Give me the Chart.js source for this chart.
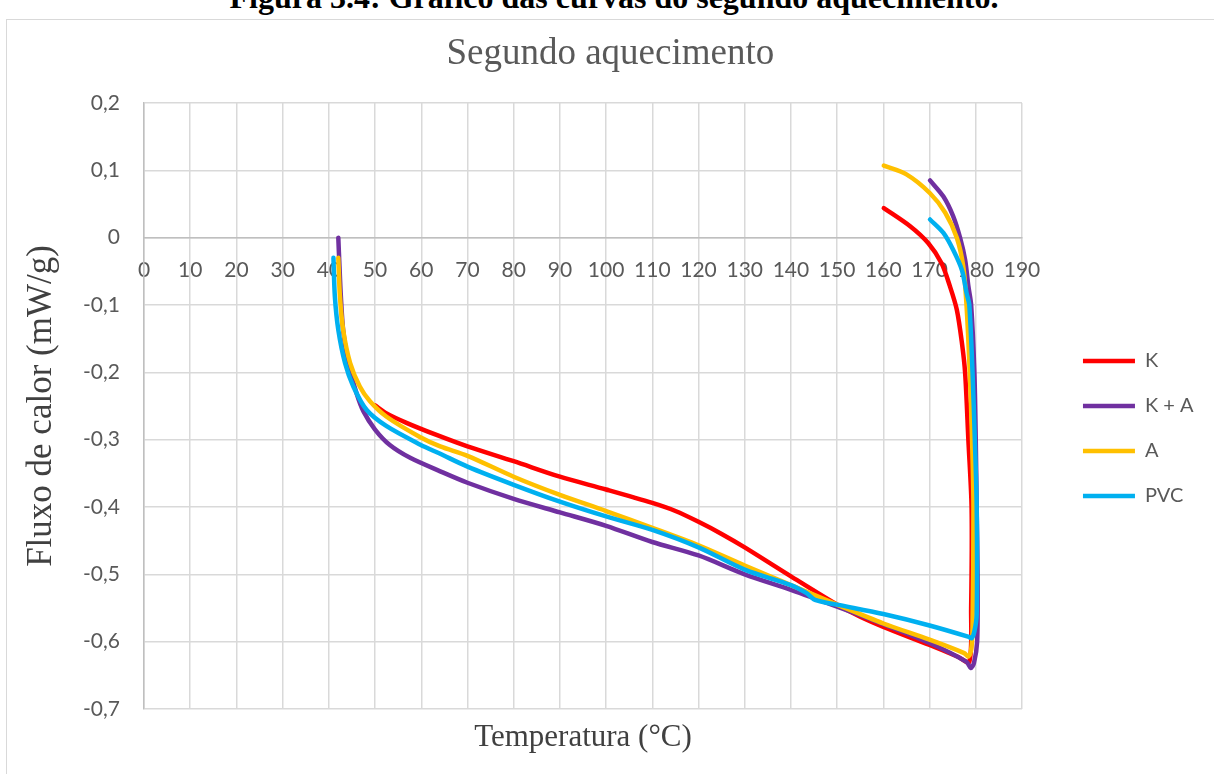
<!DOCTYPE html>
<html><head><meta charset="utf-8">
<script src="https://cdn.jsdelivr.net/npm/chart.js@4.4.1/dist/chart.umd.min.js"></script>
<style>
html,body{margin:0;padding:0;background:#fff;width:1214px;height:774px;overflow:hidden;}
#frame{position:absolute;left:6px;top:19px;width:1300px;height:900px;border:1px solid #d9d9d9;box-sizing:border-box;}
#cap{position:absolute;left:7px;width:1214px;top:-19px;text-align:center;font:bold 32px "Liberation Serif";line-height:32px;white-space:nowrap;color:#000;}
#wrap{position:absolute;left:0;top:0;width:1214px;height:774px;}
</style></head><body>
<div id="cap">Figura 3.4: Gráfico das curvas do segundo aquecimento.</div>
<div id="frame"></div>
<div id="wrap"><canvas id="c" width="1214" height="774"></canvas></div>
<script>
// ---- data ----
const seriesNames = ['K', 'K + A', 'A', 'PVC'];
const seriesColors = ['#FF0000', '#7030A0', '#FFC000', '#00B0F0'];

const kT = [50, 52.5, 56.8, 63.3, 70, 80, 90, 100, 110, 115, 120, 125, 130, 140, 150, 155, 160, 170, 176, 178.6, 179.0, 179.1, 178.4, 177.7, 177.0, 175.9, 174.4, 172.6, 169.7, 165.8, 160.1];
const kV = [-0.249, -0.261, -0.275, -0.293, -0.310, -0.332, -0.355, -0.374, -0.394, -0.406, -0.422, -0.440, -0.460, -0.503, -0.545, -0.563, -0.578, -0.605, -0.622, -0.630, -0.55, -0.402, -0.300, -0.201, -0.156, -0.107, -0.072, -0.038, -0.008, 0.017, 0.044];

const kaT = [42.05, 42.3, 42.6, 43.1, 44.2, 46.0, 47.5, 50, 53.2, 57.6, 64.1, 70, 80, 90, 100, 110, 120, 130, 140, 150, 160, 170, 178.0, 178.9, 179.6, 180.3, 180.4, 180.2, 180.0, 179.7, 179.0, 178.4, 177.7, 176.6, 175.1, 173.0, 170.1];
const kaV = [0, -0.042, -0.087, -0.137, -0.186, -0.231, -0.258, -0.285, -0.308, -0.327, -0.347, -0.364, -0.388, -0.408, -0.428, -0.452, -0.472, -0.500, -0.523, -0.548, -0.574, -0.602, -0.630, -0.639, -0.632, -0.600, -0.500, -0.400, -0.300, -0.200, -0.100, -0.072, -0.033, 0, 0.032, 0.061, 0.085];

const aT = [42.05, 42.4, 43.1, 44.6, 46.7, 48.9, 52.5, 59.7, 64.1, 70, 80, 90, 100, 110, 120, 130, 140, 150, 160, 170, 177.5, 178.4, 179.0, 179.3, 179.5, 179.2, 178.7, 178.0, 177.3, 175.9, 173.4, 170.1, 165.0, 160.1];
const aV = [-0.030, -0.087, -0.137, -0.186, -0.221, -0.243, -0.266, -0.296, -0.310, -0.324, -0.355, -0.382, -0.406, -0.431, -0.457, -0.487, -0.516, -0.545, -0.573, -0.597, -0.617, -0.622, -0.612, -0.580, -0.400, -0.300, -0.200, -0.100, -0.043, 0, 0.037, 0.066, 0.094, 0.107];

const pvcT = [41.0, 41.3, 42.05, 43.5, 45.3, 48.2, 52.5, 59.7, 64.1, 70, 80, 90, 100, 110, 120, 130, 140, 143.4, 145.2, 150, 160, 170, 178.5, 179.1, 179.7, 180.2, 180.2, 179.8, 179.3, 178.6, 178.0, 177.0, 175.1, 173.0, 170.1];
const pvcV = [-0.030, -0.087, -0.137, -0.186, -0.221, -0.256, -0.280, -0.307, -0.321, -0.340, -0.367, -0.392, -0.414, -0.434, -0.460, -0.493, -0.516, -0.528, -0.538, -0.545, -0.559, -0.576, -0.593, -0.595, -0.585, -0.560, -0.400, -0.300, -0.200, -0.100, -0.082, -0.048, -0.018, 0.007, 0.027];

const xTicksMin = 0, xTicksMax = 190, xStep = 10;
const yTicksMin = -0.7, yTicksMax = 0.2, yStep = 0.1;

const chartTitle = 'Segundo aquecimento';
const xTitle = 'Temperatura (°C)';
const yTitle = 'Fluxo de calor (mW/g)';
// ----------------------------------------

const allT = [kT, kaT, aT, pvcT];
const allV = [kV, kaV, aV, pvcV];
const pairs = (ts, vs) => ts.map((t, i) => ({x: t, y: vs[i]}));

const datasets = seriesNames.map((name, i) => ({
  label: name,
  data: pairs(allT[i], allV[i]),
  borderColor: seriesColors[i],
  backgroundColor: seriesColors[i],
  borderWidth: 4.5,
  borderCapStyle: 'round',
  borderJoinStyle: 'round',
  pointRadius: 0,
  pointHoverRadius: 0,
  showLine: true,
  tension: 0.3,
  order: seriesNames.length - i
}));

const tickFont = {family: 'Lato', size: 21};
const tickColor = '#595959';
const gridColor = '#d9d9d9';

new Chart(document.getElementById('c'), {
  type: 'scatter',
  data: {datasets},
  options: {
    responsive: false,
    animation: false,
    devicePixelRatio: 1,
    layout: {padding: {left: 17, right: 10.4, top: 0, bottom: 7.8}},
    plugins: {
      title: {
        display: true, text: chartTitle, color: '#595959',
        font: {family: 'Liberation Serif', size: 37, weight: 'normal'},
        padding: {top: 32.5, bottom: 26.1}
      },
      legend: {
        position: 'right', fullSize: false, align: 'center',
        title: {display: true, text: '', font: {size: 10}, padding: {top: 33, bottom: 0}},
        labels: {
          sort: (a, b) => a.datasetIndex - b.datasetIndex,
          usePointStyle: true, pointStyle: 'line', pointStyleWidth: 52,
          font: {family: 'Lato', size: 20}, color: tickColor, padding: 25
        }
      },
      tooltip: {enabled: false}
    },
    scales: {
      x: {
        type: 'linear', min: xTicksMin, max: xTicksMax, position: {y: 0},
        ticks: {stepSize: xStep, padding: 20, font: tickFont, color: tickColor, maxRotation: 0, autoSkip: false},
        grid: {color: gridColor, lineWidth: 1.5, drawTicks: false},
        border: {color: '#bfbfbf', width: 1.5}
      },
      y: {
        type: 'linear', min: yTicksMin, max: yTicksMax,
        ticks: {
          stepSize: yStep, padding: 24, font: tickFont, color: tickColor,
          callback: v => { const r = Math.round(v * 10) / 10; return r === 0 ? '0' : r.toFixed(1).replace('.', ','); }
        },
        grid: {color: gridColor, lineWidth: 1.5, drawTicks: false},
        border: {color: '#bfbfbf', width: 1.5},
        title: {display: true, text: yTitle, color: '#404040', font: {family: 'Liberation Serif', size: 35}, padding: {top: 4, bottom: 0}},
        afterFit: s => { s.width = 127; }
      },
      x2: {
        type: 'linear', position: 'bottom', min: xTicksMin, max: xTicksMax,
        ticks: {display: false}, grid: {display: false, drawTicks: false}, border: {display: false},
        title: {display: true, text: xTitle, color: '#404040', font: {family: 'Liberation Serif', size: 31}, padding: {top: 10, bottom: 10}}
      },
      yr: {
        type: 'linear', position: 'right',
        ticks: {display: false}, grid: {display: false, drawTicks: false}, border: {display: false},
        afterFit: s => { s.width = 36; }
      }
    }
  }
});
</script>
</body></html>
